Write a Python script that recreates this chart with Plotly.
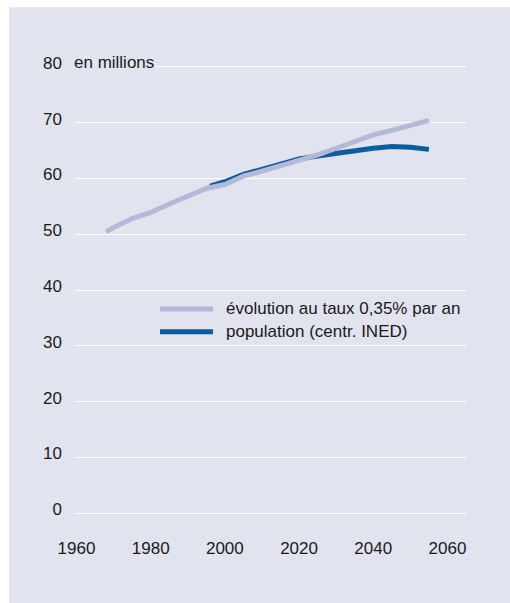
import plotly.graph_objects as go

# population de la France, en millions
years_taux = [1968, 1970, 1975, 1980, 1985, 1990, 1995, 2000, 2005, 2010,
              2015, 2020, 2025, 2030, 2035, 2040, 2045, 2050, 2055]
pop_taux = [50.4, 51.2, 52.8, 53.9, 55.4, 56.9, 58.2, 58.9, 60.4, 61.3,
            62.2, 63.2, 64.2, 65.4, 66.7, 67.8, 68.6, 69.4, 70.4]

years_ined = [1996, 2000, 2005, 2010, 2015, 2020, 2025, 2030, 2035, 2040,
              2045, 2050, 2055]
pop_ined = [58.6, 59.4, 60.7, 61.6, 62.6, 63.5, 64.0, 64.5, 65.0, 65.4,
            65.7, 65.6, 65.2]

names = ["évolution au taux 0,35% par an", "population (centr. INED)"]
x_ticks = [1960, 1980, 2000, 2020, 2040, 2060]
y_ticks = [0, 10, 20, 30, 40, 50, 60, 70, 80]

BG = "#e1e3ef"
LIGHT = "#b3bad9"
DARK = "#0b5e9e"
TXT = "#1a1a1a"
FONT = "Liberation Sans, Arial, sans-serif"
FS = 17

fig = go.Figure()
fig.add_trace(go.Scatter(x=years_ined, y=pop_ined, mode="lines", name=names[1],
                         line=dict(color=DARK, width=5), showlegend=False))
fig.add_trace(go.Scatter(x=years_taux, y=pop_taux, mode="lines", name=names[0],
                         line=dict(color=LIGHT, width=5), showlegend=False))

# bord blanc en haut et à gauche
fig.add_shape(type="rect", xref="paper", yref="paper", layer="above",
              x0=-0.3, x1=-0.1688, y0=-0.3, y1=1.3,
              fillcolor="white", line=dict(width=0))
fig.add_shape(type="rect", xref="paper", yref="paper", layer="above",
              x0=-0.3, x1=1.3, y0=1.1255, y1=1.3,
              fillcolor="white", line=dict(width=0))

# légende manuelle
for name, color, yv in [(names[0], LIGHT, 36.6), (names[1], DARK, 32.5)]:
    fig.add_shape(type="line", xref="paper", yref="y",
                  x0=0.2174, x1=0.353, y0=yv, y1=yv,
                  line=dict(color=color, width=5))
    fig.add_annotation(text=name, xref="paper", yref="y", x=0.381, y=yv,
                       xanchor="left", yanchor="middle", showarrow=False,
                       font=dict(size=FS, color=TXT, family=FONT))

fig.add_annotation(text="en millions", xref="paper", yref="y", x=-0.0051, y=80,
                   xanchor="left", yanchor="middle", yshift=4, showarrow=False,
                   bgcolor=BG, borderpad=0,
                   font=dict(size=FS, color=TXT, family=FONT))

fig.update_xaxes(range=[1959.6, 2065], tickvals=x_ticks, showgrid=False,
                 zeroline=False, showline=False, ticks="",
                 ticklabelstandoff=20,
                 tickfont=dict(size=FS, color=TXT, family=FONT))
fig.update_yaxes(range=[-0.5, 80.5], tickvals=y_ticks, showgrid=True,
                 gridcolor="white", gridwidth=1, zeroline=False,
                 showline=False, ticks="", ticklabelstandoff=12,
                 ticklabelshift=-4,
                 tickfont=dict(size=FS, color=TXT, family=FONT))

fig.update_layout(
    width=510, height=603,
    margin=dict(l=75, r=44, t=64, b=87),
    paper_bgcolor=BG, plot_bgcolor=BG,
    showlegend=False,
    font=dict(family=FONT, color=TXT),
)
fig.write_html("out.html", config={"displayModeBar": False},
               post_script="document.body.style.margin='0';")
